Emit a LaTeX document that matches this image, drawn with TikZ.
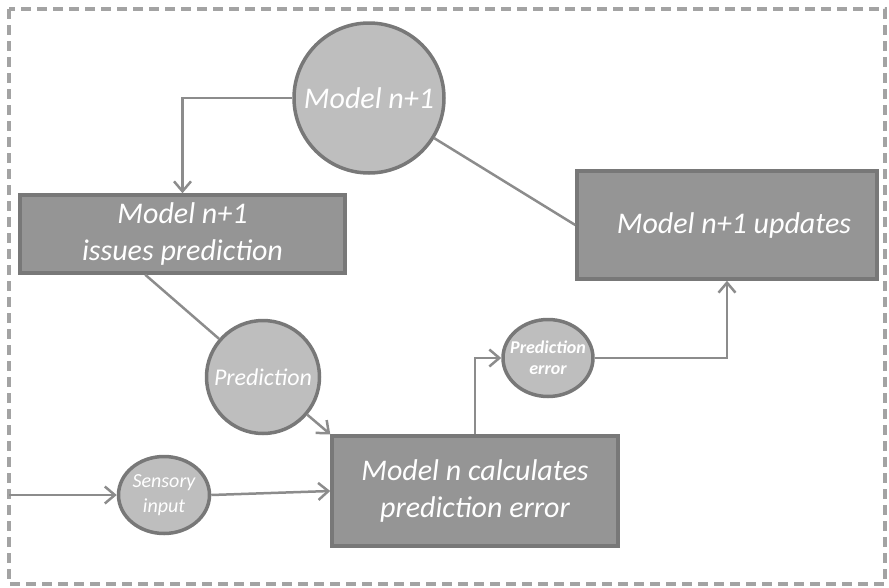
\documentclass[tikz,border=0pt]{standalone}
\usepackage{fontspec}
\setmainfont{Carlito}
\usetikzlibrary{shapes.geometric,arrows.meta}
\definecolor{boxgray}{HTML}{959595}
\definecolor{boxedge}{HTML}{787878}
\definecolor{bubgray}{HTML}{BEBEBE}
\definecolor{linegray}{HTML}{8C8C8C}
\definecolor{framegray}{HTML}{A3A3A3}
\begin{document}
\begin{tikzpicture}[x=1pt,y=-1pt,
  box/.style={draw=boxedge, line width=3.5pt, fill=boxgray, text=white, align=center, inner sep=0pt, font=\itshape\fontsize{30}{37}\selectfont},
  bubble/.style={ellipse, draw=boxedge, line width=3.5pt, fill=bubgray, inner sep=0pt},
  bubtext/.style={text=white, align=center, inner sep=0pt},
  link/.style={draw=linegray, line width=2.5pt},
  >={Straight Barb[length=10pt,width=17pt]}]

\useasboundingbox (0,0) rectangle (889,587);
\draw[framegray, line width=4pt, dash pattern=on 10pt off 6pt] (9,9) rectangle (885,584);

\node[bubble, minimum width=150pt, minimum height=150pt,
  label={[bubtext, font=\itshape\fontsize{30}{36}\selectfont]center:Model n+1}] (m1) at (369,98) {};
\node[box, minimum width=325pt, minimum height=78pt] (issue) at (182.5,234) {Model n+1\\issues prediction};
\node[box, minimum width=300pt, minimum height=108pt] (upd) at (727,225) {\hspace*{14pt}Model n+1 updates};
\node[box, minimum width=286pt, minimum height=110pt] (calc) at (475,491) {Model n calculates\\prediction error};
\node[bubble, minimum width=113pt, minimum height=113pt,
  label={[bubtext, font=\itshape\fontsize{24}{28}\selectfont]center:Prediction}] (pred) at (263,377) {};
\node[bubble, minimum width=91pt, minimum height=77pt,
  label={[bubtext, font=\itshape\fontsize{20}{25}\selectfont]center:Sensory\\input}] (sens) at (164,495) {};
\node[bubble, minimum width=90pt, minimum height=77pt,
  label={[bubtext, font=\bfseries\itshape\fontsize{18}{21}\selectfont]center:Prediction\\error}] (perr) at (548,358) {};

\coordinate (in) at (9,495);

\draw[link,->] (m1.west) -| (issue.north);
\draw[link] (m1) -- (upd.west);
\draw[link] ([xshift=127pt]issue.south west) -- (pred);
\draw[link,->] (pred) -- (calc.north west);
\draw[link,->] (in) -- (sens.west);
\draw[link,->] (sens.east) -- (calc.west);
\draw[link,->] (calc.north) |- (perr.west);
\draw[link,->] (perr.east) -| (upd.south);
\end{tikzpicture}
\end{document}
